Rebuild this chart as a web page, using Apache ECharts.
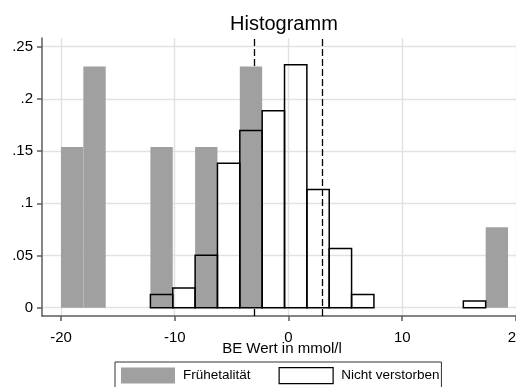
<!DOCTYPE html>
<html><head><meta charset="utf-8">
<script src="https://cdn.jsdelivr.net/npm/echarts@6/dist/echarts.min.js"></script>
<style>html,body{margin:0;padding:0;background:#fff}#c{width:516px;height:387px}</style>
</head><body><div id="c"></div>
<script>
const titleText = 'Histogramm';
const xAxisTitle = 'BE Wert in mmol/l';
const seriesNames = ['Frühetalität', 'Nicht verstorben'];
const binStart = -20;
const binWidth = 1.965;
const fruehFraction = [0.154, 0.231, 0, 0, 0.154, 0, 0.154, 0, 0.231, 0, 0, 0, 0, 0, 0, 0, 0, 0, 0, 0.077];
const nichtFraction = [0, 0, 0, 0, 0.0126, 0.0189, 0.0503, 0.1384, 0.1698, 0.1887, 0.2327, 0.1132, 0.0566, 0.0126, 0, 0, 0, 0, 0.0063, 0];
const xTickValues = [-20, -10, 0, 10, 20];
const yTickValues = [0, 0.05, 0.1, 0.15, 0.2, 0.25];
const yTickLabels = ['0', '.05', '.1', '.15', '.2', '.25'];
const refLines = [-3, 3];

function toBins(fr) {
  return fr.map((v, i) => [binStart + i * binWidth, binStart + (i + 1) * binWidth, v]).filter(d => d[2] > 0);
}
function rectRender(style) {
  return function (params, api) {
    const p0 = api.coord([api.value(0), api.value(2)]);
    const p1 = api.coord([api.value(1), 0]);
    return { type: 'rect', shape: { x: p0[0], y: p0[1], width: p1[0] - p0[0], height: p1[1] - p0[1] }, style: style };
  };
}
const FONT = '"Liberation Sans", Arial, sans-serif';
const AX = '#5c5c5c';
const chart = echarts.init(document.getElementById('c'), null, { renderer: 'canvas' });
chart.setOption({
  animation: false,
  backgroundColor: '#fff',
  title: { text: titleText, left: 230, top: 14, padding: 0,
    textStyle: { fontFamily: FONT, fontSize: 20, fontWeight: 'normal', color: '#000' } },
  legend: {
    left: 115, top: 362, padding: [5, 2, 6, 6], itemGap: 28, itemWidth: 54, itemHeight: 16,
    borderColor: '#333', borderWidth: 1, selectedMode: false,
    textStyle: { fontFamily: FONT, fontSize: 13.5, color: '#000', padding: [0, 0, 0, 3] },
    data: [
      { name: seriesNames[0], icon: 'rect', itemStyle: { color: '#a0a0a0', borderWidth: 0 } },
      { name: seriesNames[1], icon: 'rect', itemStyle: { color: '#fff', borderColor: '#000', borderWidth: 1.2 } }
    ]
  },
  grid: { left: 42, right: 0, top: 38, bottom: 71, containLabel: false, outerBoundsMode: 'none' },
  xAxis: {
    type: 'value', min: -21.67, max: 20,
    name: xAxisTitle, nameLocation: 'middle', nameGap: 25, nameMoveOverlap: false,
    nameTextStyle: { fontFamily: FONT, fontSize: 15, color: '#000', padding: [0, 0, 0, 6] },
    axisLine: { show: true, onZero: false, lineStyle: { color: AX, width: 1.5 } },
    axisTick: { show: true, length: 5, customValues: xTickValues, lineStyle: { color: AX, width: 1.5 } },
    axisLabel: { customValues: xTickValues, margin: 14, fontFamily: FONT, fontSize: 15, color: '#000',
      showMaxLabel: true, formatter: v => String(v) },
    splitLine: { show: true, lineStyle: { color: '#e2e2e2', width: 1.4 } }
  },
  yAxis: {
    type: 'value', min: -0.008, max: 0.2583,
    axisLine: { show: true, onZero: false, lineStyle: { color: AX, width: 1.5 } },
    axisTick: { show: true, length: 5, customValues: yTickValues, lineStyle: { color: AX, width: 1.5 } },
    axisLabel: { customValues: yTickValues, margin: 9, fontFamily: FONT, fontSize: 15, color: '#000',
      formatter: v => { const i = yTickValues.findIndex(t => Math.abs(t - v) < 1e-9); return i >= 0 ? yTickLabels[i] : ''; } },
    splitLine: { show: true, lineStyle: { color: '#e2e2e2', width: 1.4 } }
  },
  series: [
    { type: 'line', data: [], z: 1, silent: true,
      markLine: { silent: true, z: 1, symbol: ['none', 'none'], label: { show: false },
        lineStyle: { color: '#000', type: [7, 3], width: 1.3 },
        emphasis: { disabled: true },
        data: refLines.map(v => ({ xAxis: v })) } },
    { type: 'custom', name: seriesNames[0], z: 2, silent: true,
      encode: { x: [0, 1], y: 2 },
      renderItem: rectRender({ fill: '#a0a0a0', stroke: null }),
      data: toBins(fruehFraction) },
    { type: 'custom', name: seriesNames[1], z: 3, silent: true,
      encode: { x: [0, 1], y: 2 },
      renderItem: rectRender({ fill: 'none', stroke: '#000', lineWidth: 1.5 }),
      data: toBins(nichtFraction) }
  ]
});
</script></body></html>
